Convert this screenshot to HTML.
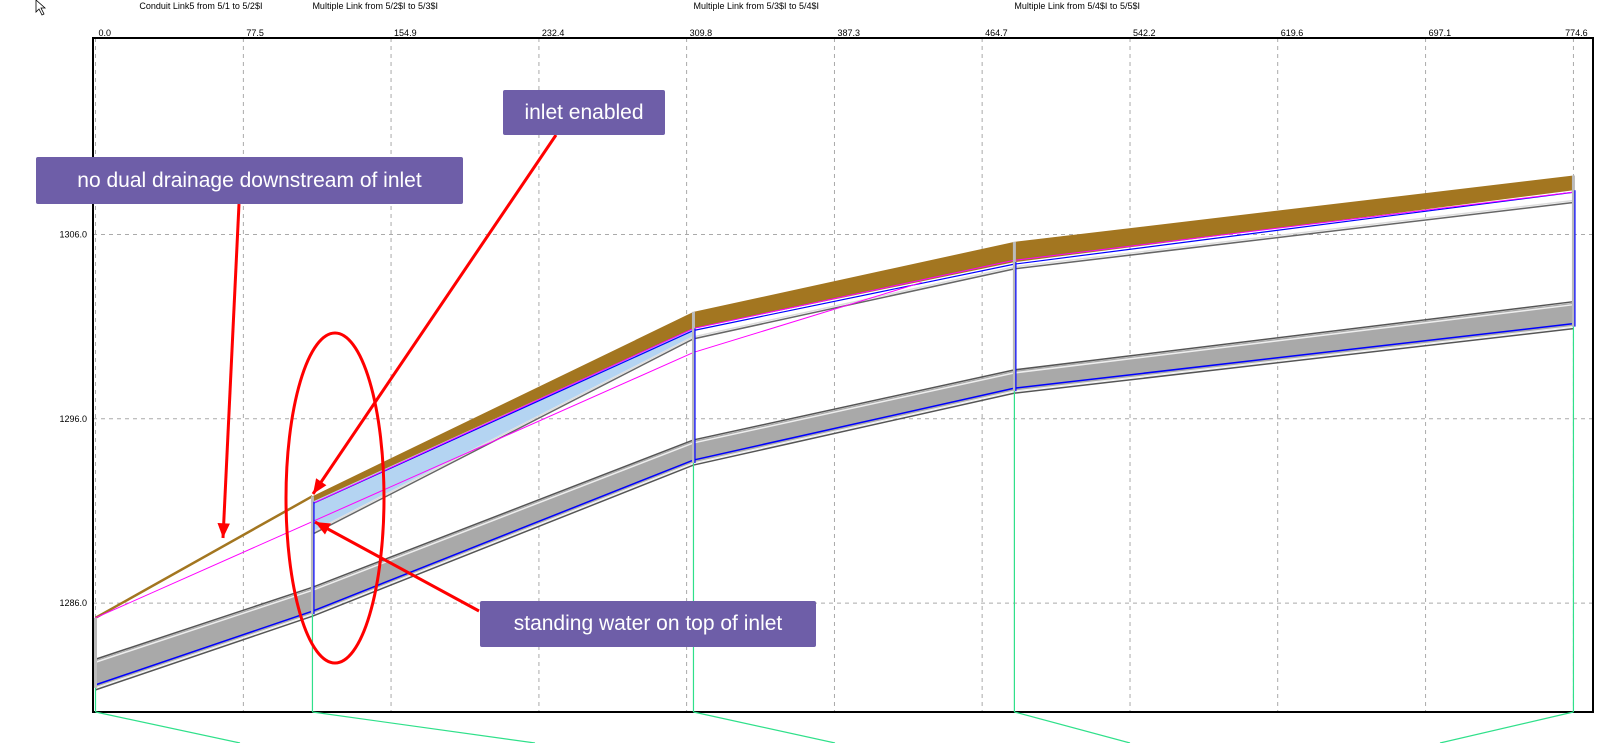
<!DOCTYPE html>
<html><head><meta charset="utf-8"><style>
body{margin:0;background:#fff;width:1606px;height:743px;overflow:hidden;font-family:"Liberation Sans",sans-serif}
svg{position:absolute;left:0;top:0}
.note{position:absolute;background:#6e5ea8;color:#fff;font-size:21px;display:flex;align-items:center;justify-content:center;border-radius:2px}
</style></head><body>
<svg id="chart" width="1606" height="743"></svg>
<div class="note" style="left:36px;top:157px;width:427px;height:47px">no dual drainage downstream of inlet</div>
<div class="note" style="left:503px;top:90px;width:162px;height:45px">inlet enabled</div>
<div class="note" style="left:480px;top:601px;width:336px;height:46px">standing water on top of inlet</div>
<script>
const nodeDist=[0,113.7,313.4,481.6,774.6];
const groundElev=[1285.2,1291.8,1301.8,1305.6,1309.2];
const crownElev=[null,1291.5,1300.9,1304.5,1308.4];
const invertElev=[null,1289.9,1300.5,1304.3,1307.9];
const lowTop=[1282.9,1286.8,1294.8,1298.6,1302.3];
const lowBot=[1281.4,1285.4,1293.6,1297.5,1301.0];
const hglLowDist=[0,313.4,433];
const hglLowElev=[1285.2,1299.6,1303.4];
const hglUpElev=[null,1291.4,1300.9,1304.6,1308.3];
const xTicks=["0.0","77.5","154.9","232.4","309.8","387.3","464.7","542.2","619.6","697.1","774.6"];
const yTicks=[1286,1296,1306];
const linkTitles=["Conduit Link5 from 5/1 to 5/2$I","Multiple Link from 5/2$I to 5/3$I","Multiple Link from 5/3$I to 5/4$I","Multiple Link from 5/4$I to 5/5$I"];
const titleDist=[23,113.7,313.4,481.6];

const X=d=>95.5+d*1.908;
const Y=e=>234.5+(1306-e)*18.43;
const svg=document.getElementById('chart');
const NS='http://www.w3.org/2000/svg';
function mk(t,a,p){const e=document.createElementNS(NS,t);for(const k in a)e.setAttribute(k,a[k]);(p||svg).appendChild(e);return e;}
function pl(pts,attrs){return mk('polyline',Object.assign({points:pts.map(p=>p.join(',')).join(' '),fill:'none'},attrs));}

xTicks.forEach((t,i)=>{const x=X(parseFloat(t));
 const g=mk('line',{x1:x,y1:38,x2:x,y2:712,stroke:'#aaa','stroke-dasharray':'4,4'});
 
 
 const tx=mk('text',{x:x+3,y:36,'font-size':'9','font-family':'Liberation Sans, sans-serif','text-anchor':i==10?'middle':'start',fill:'#000'});
 tx.textContent=t;
 
 
});
yTicks.forEach(v=>{const y=Y(v);
 const g=mk('line',{x1:93,y1:y,x2:1593,y2:y,stroke:'#aaa','stroke-dasharray':'4,4'});
 
 
 const tx=mk('text',{x:87,y:y+3,'font-size':'9','font-family':'Liberation Sans, sans-serif','text-anchor':'end'});
 tx.textContent=v.toFixed(1);
 
 
});
linkTitles.forEach((t,i)=>{
 const tx=mk('text',{x:X(titleDist[i]),y:9,'font-size':'9','font-family':'Liberation Sans, sans-serif'});
 tx.textContent=t;
 
 
});
const frame=mk('rect',{x:93,y:38,width:1500,height:674,fill:'none',stroke:'#000','stroke-width':2});



const lowPts=nodeDist.map((d,i)=>[X(d),Y(lowTop[i])]).concat(nodeDist.map((d,i)=>[X(d),Y(lowBot[i])]).reverse());
const band=mk('polygon',{points:lowPts.map(p=>p.join(',')).join(' '),fill:'#a9a9a9'});


pl(nodeDist.map((d,i)=>[X(d),Y(lowTop[i])-1]),{stroke:'#555','stroke-width':1.5});
pl(nodeDist.map((d,i)=>[X(d),Y(lowTop[i])+2]),{stroke:'#eee','stroke-width':1.5});
pl(nodeDist.map((d,i)=>[X(d),Y(lowBot[i])-3]),{stroke:'#00f','stroke-width':1.5});
pl(nodeDist.map((d,i)=>[X(d),Y(lowBot[i])]),{stroke:'#eee','stroke-width':1.5});
pl(nodeDist.map((d,i)=>[X(d),Y(lowBot[i])+2]),{stroke:'#555','stroke-width':1.5});

const hp=[[X(nodeDist[1]),Y(crownElev[1])],[X(nodeDist[2]),Y(crownElev[2])],[X(nodeDist[2]),Y(invertElev[2])],[X(nodeDist[1]),Y(invertElev[1])]];
const hatch=mk('polygon',{points:hp.map(p=>p.join(',')).join(' '),fill:'#b4d4f2'});


const bp=[];for(let i=1;i<5;i++)bp.push([X(nodeDist[i]),Y(groundElev[i])]);
for(let i=4;i>=1;i--)bp.push([X(nodeDist[i]),Y(crownElev[i])]);
const brown=mk('polygon',{points:bp.map(p=>p.join(',')).join(' '),fill:'#a37620'});


pl([[X(nodeDist[0]),Y(groundElev[0])],[X(nodeDist[1]),Y(groundElev[1])]],{stroke:'#a37620','stroke-width':2.5});
pl(nodeDist.slice(1).map((d,j)=>[X(d),Y(invertElev[j+1])+1]),{stroke:'#ddd','stroke-width':1.5});
pl(nodeDist.slice(1).map((d,j)=>[X(d),Y(invertElev[j+1])+3]),{stroke:'#666','stroke-width':1.5});
pl(nodeDist.slice(1).map((d,j)=>[X(d),Y(crownElev[j+1])+2]),{stroke:'#00f','stroke-width':1.2});
pl(hglLowDist.map((d,i)=>[X(d),Y(hglLowElev[i])]),{stroke:'#f0f','stroke-width':1});
pl(nodeDist.slice(1).map((d,j)=>[X(d),Y(hglUpElev[j+1])]),{stroke:'#f0f','stroke-width':1});
nodeDist.forEach((d,i)=>{const x=X(d);
 const top=i==0?Y(groundElev[0]):Y(crownElev[i]);
 const v=mk('line',{x1:x,y1:Y(groundElev[i]),x2:x,y2:Y(lowBot[i]),stroke:'#bbb','stroke-width':3});
 
 
 if(i>0)mk('line',{x1:x+1.5,y1:top,x2:x+1.5,y2:Y(lowBot[i]),stroke:'#00f','stroke-width':1.2});
 const gr=mk('line',{x1:x,y1:Y(lowBot[i]),x2:x,y2:712,stroke:'#2fe08a','stroke-width':1.2});
 
 
});
[[X(0),712,240,743],[X(113.7),712,535,743],[X(313.4),712,835,743],[X(481.6),712,1130,743],[X(774.6),712,1440,743]].forEach(a=>{
 mk('line',{x1:a[0],y1:a[1],x2:a[2],y2:a[3],stroke:'#2fe08a','stroke-width':1.2});
});
const ell=mk('ellipse',{cx:335,cy:498,rx:49,ry:165,fill:'none',stroke:'#f00','stroke-width':3});


function arrow(x1,y1,x2,y2,name){
 const l=mk('line',{x1,y1,x2,y2,stroke:'#f00','stroke-width':3});
 
 
 const a=Math.atan2(y2-y1,x2-x1),L=16,w=0.4;
 mk('polygon',{points:[[x2,y2],[x2-L*Math.cos(a-w),y2-L*Math.sin(a-w)],[x2-L*Math.cos(a+w),y2-L*Math.sin(a+w)]].map(p=>p.join(',')).join(' '),fill:'#f00'});
}
arrow(239,204,223,538,'arrow-no-dual');
arrow(556,135,313,494,'arrow-inlet');
arrow(479,611,315,522,'arrow-standing-water');
mk('path',{d:'M36,0 L36,12 L39,9 L42,15 L44,14 L41,8 L45,8 Z',fill:'#fff',stroke:'#000','stroke-width':0.8});
</script>
</body></html>
